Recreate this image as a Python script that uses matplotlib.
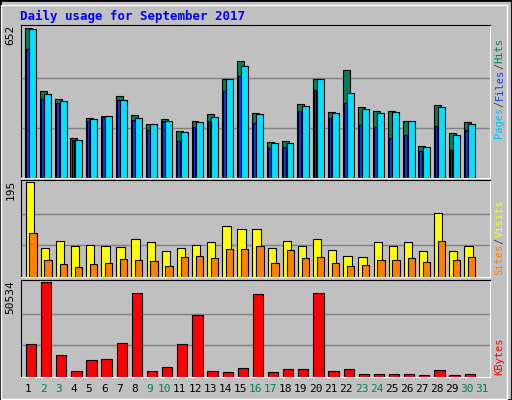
import matplotlib

matplotlib.use("Agg")
import matplotlib.pyplot as plt  # noqa: E402
from matplotlib.patches import Rectangle  # noqa: E402

days = list(range(1, 32))
weekend = [2, 3, 9, 10, 16, 17, 23, 24, 30, 31]

hits = [652, 378, 342, 173, 262, 271, 356, 276, 236, 258, 204, 249, 280, 431, 507,
        284, 156, 160, 320, 431, 289, 471, 307, 293, 293, 249, 138, 316, 196, 245]
files = [648, 367, 333, 167, 256, 270, 338, 262, 234, 247, 199, 243, 267, 430, 489,
         279, 150, 150, 314, 430, 284, 369, 302, 284, 289, 249, 133, 307, 187, 236]
pages = [560, 345, 327, 167, 249, 267, 338, 253, 209, 247, 163, 222, 249, 378, 445,
         240, 129, 133, 293, 382, 262, 324, 231, 222, 173, 187, 116, 227, 120, 209]
visits = [195, 60, 73, 64, 66, 64, 62, 77, 71, 54, 60, 66, 71, 105, 98,
          98, 60, 73, 64, 77, 56, 43, 41, 71, 64, 71, 54, 132, 54, 64]
sites = [90, 35, 26, 20, 26, 28, 37, 35, 33, 22, 41, 43, 39, 58, 58,
         64, 28, 56, 39, 41, 28, 22, 24, 35, 35, 39, 30, 73, 35, 41]
kbytes = [17336, 50534, 11800, 2950, 9040, 9590, 17890, 44450, 2950, 5160, 17336,
          32830, 2950, 2400, 4610, 43900, 2400, 4060, 4060, 44450, 2950, 4060,
          1840, 1840, 1840, 1840, 1290, 3500, 1290, 1840]

W, H = 512, 400
BG = "#C0C0C0"
MONO = "DejaVu Sans Mono"
SIDE_FS = 7.5
CHAR_PX = 0.602 * SIDE_FS * 100 / 72

fig = plt.figure(figsize=(W / 100, H / 100), dpi=100, facecolor=BG)
fig.patches.append(Rectangle((0, 0), 1, 1, transform=fig.transFigure,
                             fill=False, edgecolor="black", lw=2))
fig.patches.append(Rectangle((1 / W, 1 / H), 1 - 6 / W, 1 - 6 / H,
                             transform=fig.transFigure, fill=False,
                             edgecolor="white", lw=1))


def panel(top, bottom, ymax):
    ax = fig.add_axes([21 / W, 1 - bottom / H, 469 / W, (bottom - top) / H])
    ax.set_facecolor(BG)
    ax.set_xlim(0.5, 31.5)
    ax.set_ylim(0, ymax * 1.02)
    for t in (1 / 3, 2 / 3):
        ax.axhline(ymax * t, color="#808080", lw=1, zorder=0)
    ax.set_xticks([])
    ax.set_yticks([])
    for s in ("left", "top"):
        ax.spines[s].set_color("black")
    for s in ("right", "bottom"):
        ax.spines[s].set_color("white")
    ax.text(-0.012, 1.0, str(ymax), transform=ax.transAxes, rotation=90,
            ha="right", va="top", fontsize=8, family=MONO)
    ax._hpx = bottom - top
    return ax


def side_label(ax, parts, y0_px):
    # stacked rotated texts reading bottom to top, positioned in pixels
    y = y0_px
    for txt, col in parts:
        ax.text(1.02, y / ax._hpx, txt, transform=ax.transAxes, rotation=90,
                ha="center", va="bottom", fontsize=SIDE_FS, family=MONO, color=col)
        y += len(txt) * CHAR_PX


x = days[:len(hits)]
kw = dict(edgecolor="black", lw=0.8, align="edge")

ax1 = panel(25, 178, 652)
ax1.bar([d - 0.23 for d in x], hits, width=0.46, color="#00805C", **kw)
ax1.bar([d - 0.16 for d in x], pages, width=0.18, color="#0040FF", **kw)
ax1.bar([d + 0.05 for d in x], files, width=0.46, color="#00E0FF", **kw)
side_label(ax1, [("Pages", "#00C0FF"), ("/", "#404040"), ("Files", "#0040FF"),
                 ("/", "#404040"), ("Hits", "#00805C")], 40)

ax2 = panel(180, 277, 195)
ax2.bar([d - 0.2 for d in x], visits, width=0.55, color="#FFFF00", **kw)
ax2.bar([d + 0.05 for d in x], sites, width=0.48, color="#FF8000", **kw)
side_label(ax2, [("Sites", "#FF8000"), ("/", "#404040"), ("Visits", "#FFFF00")], 2)

ax3 = panel(280, 377, 50534)
ax3.bar([d - 0.18 for d in x], kbytes, width=0.68, color="#FF0000", **kw)
side_label(ax3, [("KBytes", "#FF0000")], 2)

for d in days:
    fig.text((21 + (d - 0.5) * 469 / 31) / W, 1 - 389 / H, str(d),
             ha="center", va="center", fontsize=8, family=MONO,
             color="#00805C" if d in weekend else "black")

fig.text(20 / W, 1 - 16 / H, "Daily usage for September 2017", color="#0000FF",
         fontsize=9, family=MONO, weight="bold", va="center")

fig.savefig("out.png", dpi=100, facecolor=BG)
